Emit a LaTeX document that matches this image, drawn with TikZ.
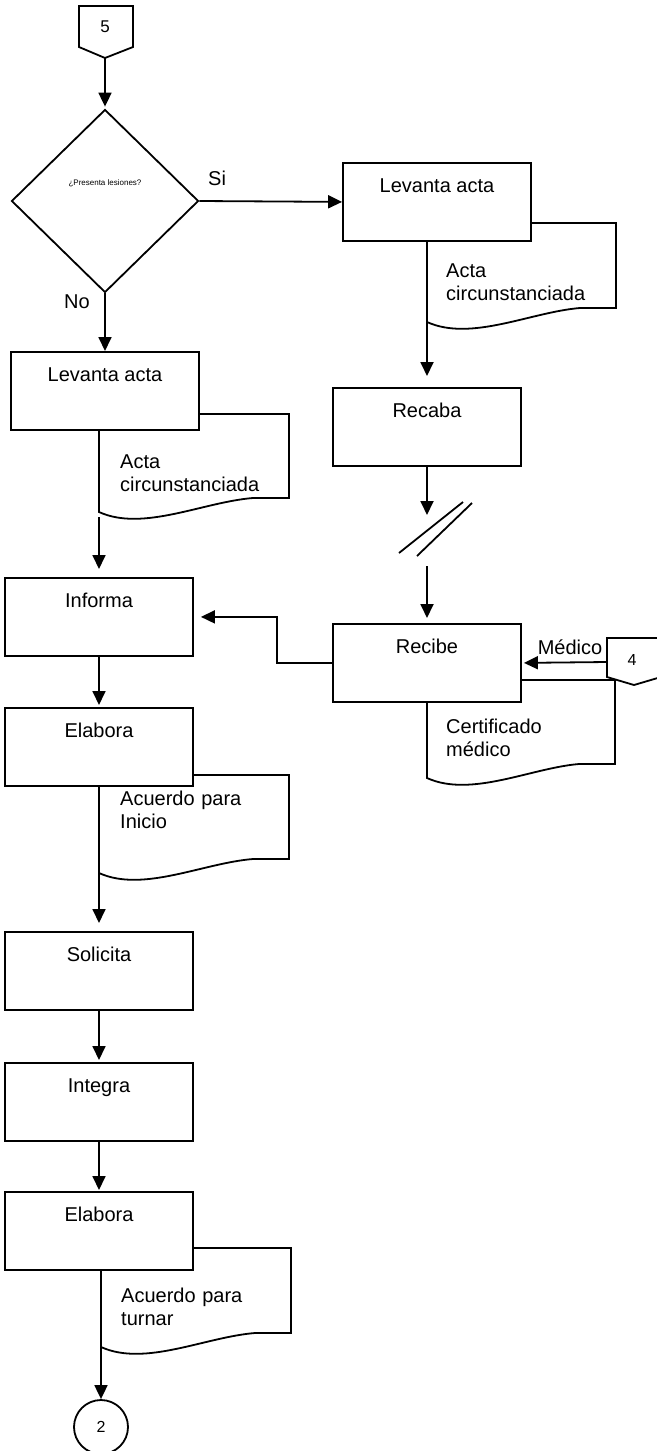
\documentclass[tikz,border=0pt]{standalone}
\usepackage{fontspec}
\setmainfont{Liberation Sans}
\usetikzlibrary{arrows.meta,shapes.geometric}

% document symbol: top edge, right edge, wavy bottom; (#1) marks its lower left corner
\newcommand{\docsym}[5]{% name, left, top, right, bottom (right side)
  \pgfmathsetmacro\docxa{#4-36}
  \pgfmathsetmacro\docxb{#2+104}
  \pgfmathsetmacro\docyb{#5+4}
  \pgfmathsetmacro\docxc{#2+44}
  \pgfmathsetmacro\docyc{#5+34}
  \pgfmathsetmacro\docyd{#5+14}
  \draw[line, fill=white] (#2,#3) -- (#4,#3) -- (#4,#5) -- (\docxa,#5)
    .. controls (\docxb,\docyb) and (\docxc,\docyc) .. (#2,\docyd) -- cycle;
  \coordinate (#1) at (#2,\docyd);
}

\tikzset{
  line/.style={line width=1.8pt, line join=miter},
  arr/.style={line, -{Triangle[length=14pt,width=13pt]}},
  txt/.style={font=\fontsize{20}{23.5}\selectfont, inner sep=0pt},
  proc/.style={draw, line width=1.8pt, fill=white, rectangle, anchor=north,
    minimum width=188pt, inner xsep=0pt, inner ysep=0pt,
    text height=30pt, text depth=48pt, font=\fontsize{20}{24}\selectfont},
  doctext/.style={txt, anchor=base west, text width=180pt, align=left},
  decision/.style={draw, line width=1.8pt, diamond, minimum width=187pt,
    minimum height=183pt, inner sep=0pt},
}

\begin{document}
\begin{tikzpicture}[x=1pt, y=-1pt]
\useasboundingbox (0,0) rectangle (656,1451);

% off-page connector 5
\draw[line, fill=white] (79,6) -- (133,6) -- (133,47) -- (105,58) -- (79,47) -- cycle;
\node[font=\fontsize{17}{20}\selectfont] (c5) at (105,27) {5};
\coordinate (c5tip) at (105,58);

% decision
\node[decision] (dec) at (105,201) {};
\node[font=\fontsize{8}{10}\selectfont, inner sep=0pt] (qtext) at ([yshift=18pt]dec.center) {¿Presenta lesiones?};
\node[txt, anchor=base west] (si) at (208,185) {Si};
\node[txt, anchor=base] (no) at (77,308) {No};

% documents (drawn first so that process boxes cover their upper left part)
\docsym{d1}{427}{223}{616}{308}
\docsym{d2}{99}{414}{289}{498}
\docsym{d3}{427}{680}{615}{764}
\docsym{d4}{99}{775}{289}{859}
\docsym{d5}{101}{1248}{291}{1333}

\node[doctext] (t1) at (446,277) {Acta\\circunstanciada};
\node[doctext] (t2) at (120,468) {Acta\\circunstanciada};
\node[doctext] (t3) at (446,733) {Certificado\\médico};
\node[doctext] (t4) at (120,805) {Acuerdo para\\Inicio};
\node[doctext] (t5) at (121,1302) {Acuerdo para\\turnar};

% process boxes
\node[proc] (levR)     at (437,162)  {Levanta acta};
\node[proc] (recaba)   at (427,387)  {Recaba};
\node[proc] (recibe)   at (427,623)  {Recibe};
\node[proc] (levL)     at (105,351)  {Levanta acta};
\node[proc] (informa)  at (99,577)   {Informa};
\node[proc] (elab1)    at (99,707)   {Elabora};
\node[proc] (solicita) at (99,931)   {Solicita};
\node[proc] (integra)  at (99,1062)  {Integra};
\node[proc] (elab2)    at (99,1191)  {Elabora};

% off-page connector 4
\draw[line, fill=white] (607,638) -- (661,638) -- (661,677) -- (634,685) -- (607,677) -- cycle;
\node[font=\fontsize{16}{19}\selectfont] (c4) at (632,660) {4};
\coordinate (c4w) at (607,662);
\node[txt, anchor=base] (med) at (570,654) {Médico};

% connector 2
\node[draw, line width=1.8pt, circle, minimum size=54pt, inner sep=0pt,
  font=\fontsize{16}{19}\selectfont] (c2) at (101,1427) {2};

% time break on the right branch
\coordinate (brk1) at (427,515);
\coordinate (brk2) at (427,566);
\draw[line] (399,553) -- (463,502);
\draw[line] (417,556) -- (472,503);

% connectors
\draw[arr, shorten >=2pt] (c5tip) -- (dec.north);
\draw[arr] (dec.east) -- (levR.west);
\draw[arr] (dec.south) -- (levL.north);
\draw[arr, shorten >=11pt] (d1) -- (recaba.north);
\draw[arr] (recaba.south) -- (brk1);
\draw[arr, shorten >=5pt] (brk2) -- (recibe.north);
\draw[arr, shorten >=2pt] (c4w) -- (recibe.east);
\draw[arr, shorten >=7pt] (recibe.west) -- ++(-55,0) |- (informa.east);
\draw[arr, shorten <=5pt, shorten >=8pt] (d2) -- (informa.north);
\draw[arr, shorten >=2pt] (informa.south) -- (elab1.north);
\draw[arr, shorten >=8pt] (d4) -- (solicita.north);
\draw[arr, shorten >=2pt] (solicita.south) -- (integra.north);
\draw[arr, shorten >=1pt] (integra.south) -- (elab2.north);
\draw[arr] (d5) -- (c2.north);
\end{tikzpicture}
\end{document}
